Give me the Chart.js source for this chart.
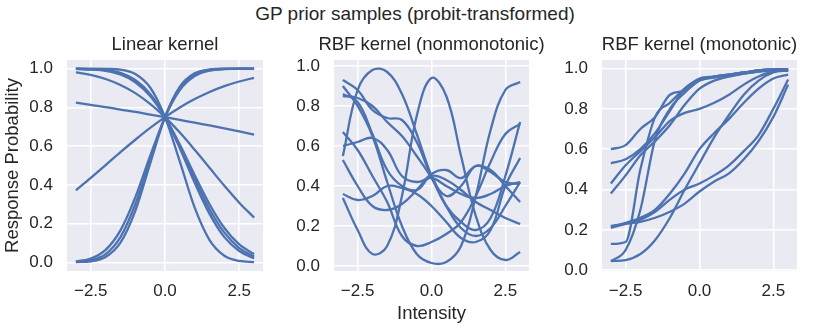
<!DOCTYPE html>
<html>
<head>
<meta charset="utf-8">
<script src="https://cdn.jsdelivr.net/npm/chart.js@4.4.0/dist/chart.umd.min.js"></script>
<style>
  body { margin: 0; background: #fff; width: 830px; height: 332px; position: relative; overflow: hidden;
         font-family: "Liberation Sans", Arial, sans-serif; }
  #suptitle { position: absolute; left: 0; top: 0; width: 830px; text-align: center;
              font-size: 19px; line-height: 28px; color: #262626; }
  canvas { position: absolute; top: 30px; }
</style>
</head>
<body>
<div id="suptitle">GP prior samples (probit-transformed)</div>
<canvas id="c1" width="285" height="302" style="left:0px"></canvas>
<canvas id="c2" width="271" height="302" style="left:289px"></canvas>
<canvas id="c3" width="273" height="302" style="left:557px"></canvas>
<script>
// sample grid (intensity) shared by every curve
const intensity = [-3, -2.5, -2, -1.5, -1, -0.5, 0, 0.5, 1, 1.5, 2, 2.5, 3];
const xTicks = [-2.5, 0, 2.5];
const yTicks = [0, 0.2, 0.4, 0.6, 0.8, 1.0];

// Linear kernel samples
const lin1 = [0.825, 0.813, 0.802, 0.789, 0.777, 0.763, 0.750, 0.736, 0.721, 0.707, 0.692, 0.676, 0.660];
const lin2 = [0.372, 0.436, 0.502, 0.569, 0.633, 0.694, 0.750, 0.800, 0.843, 0.880, 0.910, 0.934, 0.953];
const lin3 = [0.981, 0.968, 0.947, 0.916, 0.874, 0.818, 0.750, 0.670, 0.581, 0.488, 0.395, 0.308, 0.231];
const lin4 = [0.004, 0.019, 0.064, 0.165, 0.335, 0.549, 0.750, 0.890, 0.962, 0.990, 0.998, 1.000, 1.000];
const lin5 = [0.002, 0.010, 0.042, 0.130, 0.300, 0.529, 0.750, 0.899, 0.970, 0.993, 0.999, 1.000, 1.000];
const lin6 = [0.001, 0.005, 0.027, 0.101, 0.266, 0.510, 0.750, 0.907, 0.976, 0.996, 1.000, 1.000, 1.000];
const lin7 = [0.999, 0.996, 0.989, 0.970, 0.930, 0.859, 0.750, 0.608, 0.450, 0.300, 0.177, 0.092, 0.042];
const lin8 = [0.999, 0.997, 0.991, 0.974, 0.936, 0.864, 0.750, 0.598, 0.430, 0.274, 0.153, 0.073, 0.030];
const lin9 = [1.000, 0.998, 0.993, 0.979, 0.942, 0.870, 0.750, 0.589, 0.411, 0.250, 0.130, 0.058, 0.021];
const lin10 = [1.000, 1.000, 0.999, 0.995, 0.973, 0.903, 0.750, 0.520, 0.282, 0.115, 0.034, 0.007, 0.001];

// RBF kernel, nonmonotonic
const rbf1 = [0.55, 0.88, 0.98, 0.97, 0.86, 0.66, 0.45, 0.30, 0.19, 0.15, 0.19, 0.30, 0.42];
const rbf2 = [0.34, 0.18, 0.06, 0.10, 0.35, 0.75, 0.94, 0.85, 0.55, 0.25, 0.08, 0.03, 0.07];
const rbf3 = [0.90, 0.80, 0.65, 0.42, 0.20, 0.06, 0.015, 0.02, 0.10, 0.35, 0.68, 0.88, 0.92];
const rbf4 = [0.93, 0.88, 0.78, 0.74, 0.73, 0.62, 0.45, 0.35, 0.40, 0.50, 0.47, 0.42, 0.41];
const rbf5 = [0.86, 0.82, 0.66, 0.48, 0.40, 0.38, 0.45, 0.43, 0.38, 0.32, 0.28, 0.24, 0.21];
const rbf6 = [0.85, 0.84, 0.80, 0.72, 0.65, 0.55, 0.44, 0.30, 0.22, 0.18, 0.24, 0.45, 0.72];
const rbf7 = [0.67, 0.58, 0.45, 0.32, 0.15, 0.10, 0.12, 0.16, 0.22, 0.35, 0.52, 0.66, 0.71];
const rbf8 = [0.60, 0.62, 0.64, 0.58, 0.45, 0.42, 0.44, 0.40, 0.36, 0.34, 0.36, 0.40, 0.42];
const rbf9 = [0.53, 0.40, 0.30, 0.28, 0.31, 0.38, 0.46, 0.48, 0.44, 0.50, 0.48, 0.40, 0.32];
const rbf10 = [0.36, 0.33, 0.35, 0.40, 0.39, 0.36, 0.30, 0.22, 0.14, 0.12, 0.18, 0.40, 0.54];

// RBF kernel, monotonic
const mono1 = [0.60, 0.62, 0.70, 0.76, 0.87, 0.89, 0.94, 0.96, 0.97, 0.98, 0.99, 0.995, 0.995];
const mono2 = [0.53, 0.55, 0.60, 0.68, 0.79, 0.90, 0.945, 0.96, 0.97, 0.98, 0.99, 0.995, 0.995];
const mono3 = [0.43, 0.52, 0.59, 0.66, 0.74, 0.78, 0.80, 0.83, 0.87, 0.92, 0.96, 0.985, 0.99];
const mono4 = [0.38, 0.47, 0.57, 0.64, 0.72, 0.82, 0.90, 0.94, 0.96, 0.975, 0.985, 0.99, 0.995];
const mono5 = [0.13, 0.14, 0.50, 0.76, 0.83, 0.90, 0.95, 0.96, 0.97, 0.98, 0.99, 0.995, 0.995];
const mono6 = [0.045, 0.10, 0.30, 0.65, 0.80, 0.88, 0.94, 0.955, 0.965, 0.975, 0.985, 0.99, 0.995];
const mono7 = [0.22, 0.23, 0.24, 0.26, 0.29, 0.33, 0.39, 0.44, 0.48, 0.55, 0.64, 0.76, 0.92];
const mono8 = [0.21, 0.23, 0.25, 0.29, 0.35, 0.40, 0.43, 0.47, 0.52, 0.59, 0.67, 0.80, 0.945];
const mono9 = [0.215, 0.235, 0.26, 0.30, 0.38, 0.48, 0.60, 0.68, 0.75, 0.83, 0.90, 0.95, 0.97];
const mono10 = [0.045, 0.05, 0.08, 0.15, 0.26, 0.40, 0.53, 0.66, 0.77, 0.87, 0.94, 0.98, 0.99];

const ink = '#262626';
const lineBlue = '#4C72B0';
const fontFamily = '"Liberation Sans", Arial, sans-serif';

const panelBg = {
    id: 'panelBg',
    beforeDraw(chart) {
        const {ctx, chartArea} = chart;
        ctx.save();
        ctx.fillStyle = '#EAEAF2';
        ctx.fillRect(chartArea.left, chartArea.top, chartArea.width, chartArea.height);
        ctx.restore();
    }
};

// subplot title centred over the plot area (the built-in title centres on the whole canvas)
const panelTitle = {
    id: 'panelTitle',
    afterDraw(chart, args, opts) {
        const {ctx, chartArea} = chart;
        ctx.save();
        ctx.fillStyle = ink;
        ctx.font = '18.5px ' + fontFamily;
        ctx.textAlign = 'center';
        ctx.textBaseline = 'middle';
        ctx.fillText(opts.text, (chartArea.left + chartArea.right) / 2, 15);
        ctx.restore();
    }
};

function fmtTick(v) {
    return (v < 0 ? '\u2212' : '') + Math.abs(v).toFixed(1);
}

function makePanel(id, title, series, yMin, yMax, opts) {
    const datasets = series.map(ys => ({
        data: ys.map((y, i) => ({x: intensity[i], y: y})),
        borderColor: lineBlue,
        borderWidth: 2.3,
        pointRadius: 0,
        fill: false,
        tension: opts.tension || 0,
        cubicInterpolationMode: opts.monotone ? 'monotone' : 'default'
    }));

    return new Chart(document.getElementById(id), {
        type: 'line',
        data: {datasets: datasets},
        options: {
            responsive: false,
            animation: false,
            events: [],
            layout: {padding: {top: 30, right: opts.padRight}},
            plugins: {
                legend: {display: false},
                tooltip: {enabled: false},
                title: {display: false},
                panelTitle: {text: title}
            },
            scales: {
                x: {
                    type: 'linear',
                    min: -3.3,
                    max: 3.3,
                    afterBuildTicks: s => { s.ticks = xTicks.map(v => ({value: v})); },
                    afterFit: s => { s.height = 61; },
                    grid: {color: '#ffffff', lineWidth: 1.5, drawTicks: false},
                    border: {display: false},
                    ticks: {
                        color: ink,
                        padding: 10,
                        maxRotation: 0,
                        font: {family: fontFamily, size: 17},
                        callback: v => fmtTick(v)
                    },
                    title: {
                        display: !!opts.xTitle,
                        text: opts.xTitle || '',
                        color: ink,
                        font: {family: fontFamily, size: 18.5},
                        padding: {top: 0, bottom: 7}
                    }
                },
                y: {
                    min: yMin,
                    max: yMax,
                    afterBuildTicks: s => { s.ticks = yTicks.map(v => ({value: v})); },
                    afterFit: s => { s.width = opts.yWidth; },
                    grid: {color: '#ffffff', lineWidth: 1.5, drawTicks: false},
                    border: {display: false},
                    ticks: {
                        color: ink,
                        padding: 14,
                        font: {family: fontFamily, size: 17},
                        callback: v => v.toFixed(1)
                    },
                    title: {
                        display: !!opts.yTitle,
                        text: opts.yTitle || '',
                        color: ink,
                        font: {family: fontFamily, size: 18.5},
                        padding: {top: 2, bottom: 0}
                    }
                }
            }
        },
        plugins: [panelBg, panelTitle]
    });
}

makePanel('c1', 'Linear kernel',
    [lin1, lin2, lin3, lin4, lin5, lin6, lin7, lin8, lin9, lin10],
    -0.045, 1.045, {monotone: true, yWidth: 67, padRight: 22, yTitle: 'Response Probability'});

makePanel('c2', 'RBF kernel (nonmonotonic)',
    [rbf1, rbf2, rbf3, rbf4, rbf5, rbf6, rbf7, rbf8, rbf9, rbf10],
    -0.025, 1.03, {tension: 0.4, yWidth: 45, padRight: 31, xTitle: 'Intensity'});

makePanel('c3', 'RBF kernel (monotonic)',
    [mono1, mono2, mono3, mono4, mono5, mono6, mono7, mono8, mono9, mono10],
    -0.004, 1.042, {monotone: true, yWidth: 45, padRight: 33});
</script>
</body>
</html>
